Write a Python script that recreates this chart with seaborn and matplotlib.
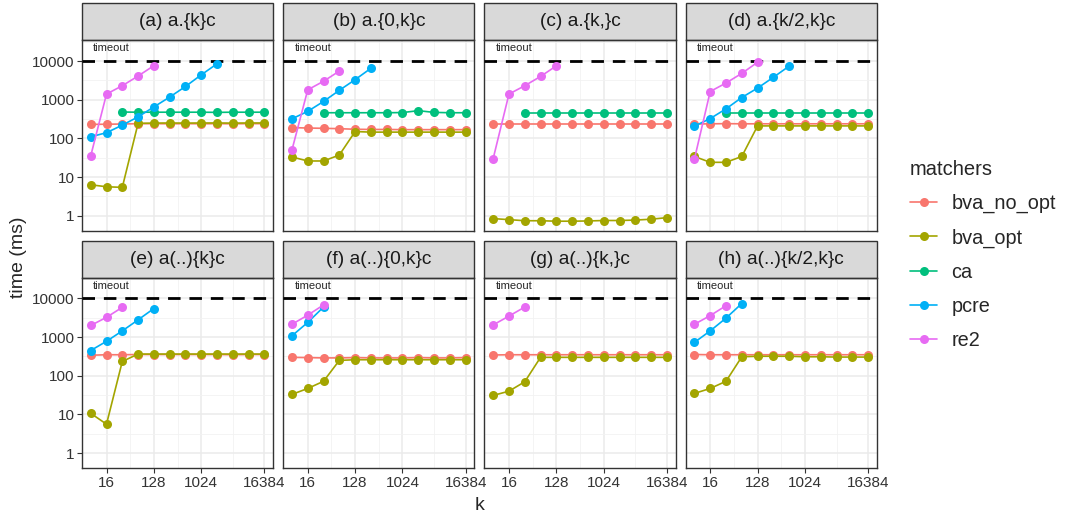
import matplotlib.pyplot as plt
import matplotlib.ticker as mticker
from matplotlib.patches import Rectangle
from matplotlib.lines import Line2D
import pandas as pd
import seaborn as sns

# x values (k) and the matchers
K = [8, 16, 32, 64, 128, 256, 512, 1024, 2048, 4096, 8192, 16384]
MATCHERS = ['bva_no_opt', 'bva_opt', 'ca', 'pcre', 're2']
COLORS = ['#F8766D', '#A3A500', '#00BF7D', '#00B0F6', '#E76BF3']
TITLES = ['(a) a.{k}c', '(b) a.{0,k}c', '(c) a.{k,}c', '(d) a.{k/2,k}c',
          '(e) a(..){k}c', '(f) a(..){0,k}c', '(g) a(..){k,}c', '(h) a(..){k/2,k}c']
TIMEOUT = 10000
N = None

# time in ms, one list per matcher, aligned with K (None = not measured)
panel_a = {
    'bva_no_opt': [230, 232, 235, 240, 240, 238, 240, 238, 240, 238, 240, 240],
    'bva_opt': [6.3, 5.6, 5.4, 245, 248, 250, 248, 250, 250, 248, 250, 250],
    'ca': [N, N, 480, 475, 475, 475, 475, 475, 470, 475, 475, 475],
    'pcre': [110, 140, 220, 360, 650, 1170, 2200, 4400, 8500],
    're2': [35, 1400, 2300, 4100, 7600],
}
panel_b = {
    'bva_no_opt': [190, 185, 182, 178, 172, 170, 170, 168, 168, 168, 168, 168],
    'bva_opt': [33, 26, 26, 37, 150, 145, 145, 145, 145, 145, 145, 145],
    'ca': [N, N, 460, 460, 460, 460, 460, 465, 520, 470, 460, 460],
    'pcre': [320, 500, 900, 1750, 3300, 6500],
    're2': [50, 1800, 3000, 5500],
}
panel_c = {
    'bva_no_opt': [232, 232, 232, 232, 232, 232, 232, 232, 232, 232, 232, 232],
    'bva_opt': [0.84, 0.79, 0.74, 0.74, 0.72, 0.72, 0.73, 0.75, 0.75, 0.77, 0.81, 0.89],
    'ca': [N, N, 450, 450, 450, 450, 450, 450, 450, 450, 450, 450],
    're2': [30, 1400, 2300, 4000, 7500],
}
panel_d = {
    'bva_no_opt': [235, 238, 240, 238, 238, 238, 238, 238, 238, 238, 238, 238],
    'bva_opt': [34, 24, 24, 34, 210, 210, 210, 210, 210, 210, 210, 210],
    'ca': [N, N, 460, 460, 460, 460, 460, 460, 460, 460, 460, 460],
    'pcre': [207, 325, 580, 1140, 2000, 3800, 7400],
    're2': [29, 1630, 2700, 4800, 9300],
}
panel_e = {
    'bva_no_opt': [340, 350, 350, 355, 355, 355, 355, 355, 355, 350, 355, 355],
    'bva_opt': [10.7, 5.6, 235, 365, 365, 365, 365, 365, 365, 365, 365, 365],
    'pcre': [450, 780, 1450, 2800, 5500],
    're2': [2000, 3250, 5900],
}
panel_f = {
    'bva_no_opt': [300, 295, 290, 290, 295, 290, 290, 290, 295, 290, 290, 295],
    'bva_opt': [33, 47, 72, 250, 260, 260, 260, 260, 260, 260, 260, 260],
    'pcre': [1080, 2400, 6000],
    're2': [2150, 3700, 6800],
}
panel_g = {
    'bva_no_opt': [345, 350, 350, 350, 350, 350, 350, 350, 350, 350, 350, 350],
    'bva_opt': [31, 40, 70, 300, 300, 300, 300, 300, 300, 300, 300, 300],
    're2': [2070, 3500, 6000],
}
panel_h = {
    'bva_no_opt': [355, 350, 350, 350, 350, 350, 350, 350, 350, 350, 350, 350],
    'bva_opt': [35, 47, 72, 310, 320, 320, 320, 310, 310, 305, 305, 305],
    'pcre': [730, 1450, 3100, 7400],
    're2': [2150, 3600, 6500],
}
PANELS = [panel_a, panel_b, panel_c, panel_d, panel_e, panel_f, panel_g, panel_h]

# long table for seaborn
rows = []
for title, panel in zip(TITLES, PANELS):
    for m, vals in panel.items():
        for k, v in zip(K, vals):
            if v is not None:
                rows.append({'panel': title, 'matcher': m, 'k': k, 'time': v})
df = pd.DataFrame(rows)

sns.set_style('white')
plt.rcParams['font.family'] = ['Liberation Sans', 'DejaVu Sans']

fig, axes = plt.subplots(2, 4, figsize=(10.68, 5.15), dpi=100, sharex=True, sharey=True)
fig.subplots_adjust(left=0.0768, right=0.821, top=0.922, bottom=0.0913,
                    wspace=0.053, hspace=0.247)

for i, (ax, title) in enumerate(zip(axes.flat, TITLES)):
    sub = df[df['panel'] == title]
    ax.set_xscale('log', base=2)
    ax.set_yscale('log', base=10)
    ax.axhline(TIMEOUT, color='black', lw=2.0, ls=(0, (4.5, 3.2)), zorder=3)
    ax.text(20, 21500, 'timeout', fontsize=8, ha='center', va='center')
    sns.lineplot(data=sub, x='k', y='time', hue='matcher', hue_order=MATCHERS,
                 palette=COLORS, marker='o', markersize=6.5, markeredgewidth=0,
                 linewidth=1.2, estimator=None, legend=False, ax=ax, zorder=4)

    ax.set_xlim(2 ** 2.45, 2 ** 14.55)
    ax.set_ylim(10 ** -0.385, 10 ** 4.54)
    ax.xaxis.set_major_locator(mticker.FixedLocator([16, 128, 1024, 16384]))
    ax.xaxis.set_minor_locator(mticker.FixedLocator([45.25, 362, 4096]))
    ax.xaxis.set_major_formatter(mticker.FixedFormatter(['16', '128', '1024', '16384']))
    ax.xaxis.set_minor_formatter(mticker.NullFormatter())
    ax.yaxis.set_major_locator(mticker.FixedLocator([1, 10, 100, 1000, 10000]))
    ax.yaxis.set_minor_locator(mticker.FixedLocator([3.162, 31.62, 316.2, 3162, 31623]))
    ax.yaxis.set_major_formatter(mticker.FixedFormatter(['1', '10', '100', '1000', '10000']))
    ax.yaxis.set_minor_formatter(mticker.NullFormatter())

    ax.grid(True, which='major', color='#EBEBEB', lw=1.1)
    ax.grid(True, which='minor', color='#F2F2F2', lw=0.6)
    ax.set_axisbelow(True)
    for s in ax.spines.values():
        s.set_color('#333333')
        s.set_linewidth(1.0)
    ax.tick_params(which='major', length=3.5, width=0.8, color='#333333',
                   labelsize=11, labelcolor='#333333', pad=2)
    ax.tick_params(which='minor', length=0)
    ax.tick_params(left=(i % 4 == 0), bottom=(i >= 4))
    ax.set_xlabel('')
    ax.set_ylabel('')

    # facet strip
    ax.add_patch(Rectangle((0, 1.0), 1, 0.194, transform=ax.transAxes, clip_on=False,
                           facecolor='#D9D9D9', edgecolor='#333333', lw=1.0))
    ax.text(0.5, 1.097, title, transform=ax.transAxes, ha='center', va='center',
            fontsize=13.8, color='#1A1A1A')

fig.text(0.017, 0.5, 'time (ms)', rotation=90, ha='center', va='center', fontsize=14)
fig.text(0.449, 0.018, 'k', ha='center', va='center', fontsize=14)

handles = [Line2D([0], [0], color=c, marker='o', markersize=6.5, markeredgewidth=0, lw=1.2)
           for c in COLORS]
leg = fig.legend(handles, MATCHERS, title='matchers', loc='center left',
                 bbox_to_anchor=(0.835, 0.505), frameon=False, fontsize=14.3,
                 title_fontsize=14.5, labelspacing=0.76, handlelength=1.4,
                 handletextpad=0.7)
leg._legend_box.align = 'left'

fig.savefig('out.png', dpi=100)
